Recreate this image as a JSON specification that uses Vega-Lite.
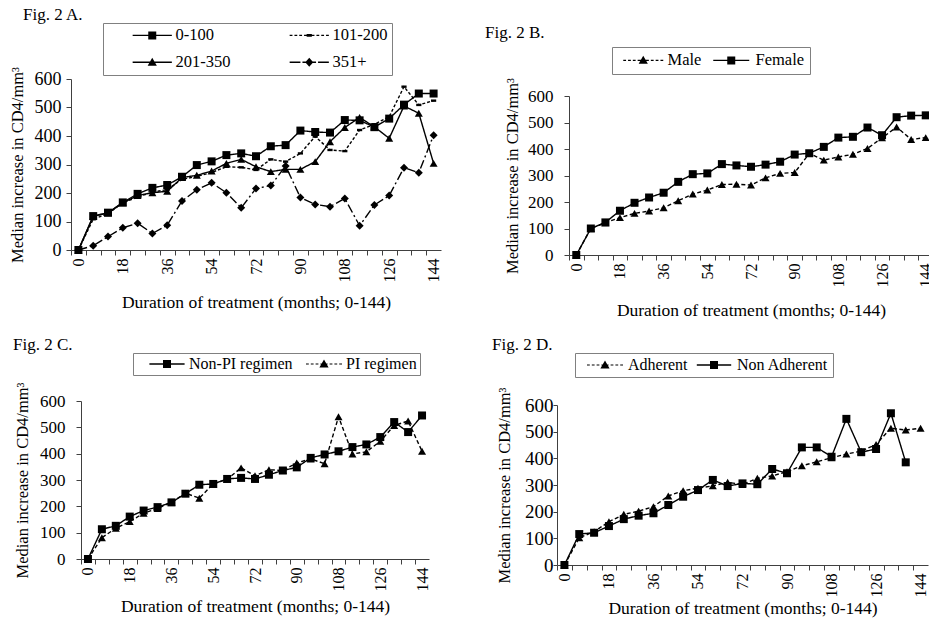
{
  "$schema": "https://vega.github.io/schema/vega-lite/v6.json",
  "autosize": {"type": "none"},
  "padding": {"left": 71, "top": 79, "right": 858, "bottom": 540},
  "background": "white",
  "datasets": {
    "A": [
      {"m":0,"v":0,"g":"0-100"},{"m":6,"v":119,"g":"0-100"},{"m":12,"v":131,"g":"0-100"},{"m":18,"v":167,"g":"0-100"},{"m":24,"v":197,"g":"0-100"},{"m":30,"v":218,"g":"0-100"},{"m":36,"v":228,"g":"0-100"},{"m":42,"v":257,"g":"0-100"},{"m":48,"v":298,"g":"0-100"},{"m":54,"v":311,"g":"0-100"},{"m":60,"v":333,"g":"0-100"},{"m":66,"v":339,"g":"0-100"},{"m":72,"v":329,"g":"0-100"},{"m":78,"v":364,"g":"0-100"},{"m":84,"v":368,"g":"0-100"},{"m":90,"v":419,"g":"0-100"},{"m":96,"v":414,"g":"0-100"},{"m":102,"v":412,"g":"0-100"},{"m":108,"v":456,"g":"0-100"},{"m":114,"v":455,"g":"0-100"},{"m":120,"v":431,"g":"0-100"},{"m":126,"v":461,"g":"0-100"},{"m":132,"v":510,"g":"0-100"},{"m":138,"v":549,"g":"0-100"},{"m":144,"v":549,"g":"0-100"},
      {"m":0,"v":0,"g":"101-200"},{"m":6,"v":108,"g":"101-200"},{"m":12,"v":128,"g":"101-200"},{"m":18,"v":165,"g":"101-200"},{"m":24,"v":186,"g":"101-200"},{"m":30,"v":203,"g":"101-200"},{"m":36,"v":212,"g":"101-200"},{"m":42,"v":248,"g":"101-200"},{"m":48,"v":258,"g":"101-200"},{"m":54,"v":272,"g":"101-200"},{"m":60,"v":292,"g":"101-200"},{"m":66,"v":290,"g":"101-200"},{"m":72,"v":281,"g":"101-200"},{"m":78,"v":318,"g":"101-200"},{"m":84,"v":310,"g":"101-200"},{"m":90,"v":339,"g":"101-200"},{"m":96,"v":398,"g":"101-200"},{"m":102,"v":351,"g":"101-200"},{"m":108,"v":347,"g":"101-200"},{"m":114,"v":421,"g":"101-200"},{"m":120,"v":441,"g":"101-200"},{"m":126,"v":468,"g":"101-200"},{"m":132,"v":573,"g":"101-200"},{"m":138,"v":509,"g":"101-200"},{"m":144,"v":524,"g":"101-200"},
      {"m":0,"v":0,"g":"201-350"},{"m":6,"v":118,"g":"201-350"},{"m":12,"v":130,"g":"201-350"},{"m":18,"v":165,"g":"201-350"},{"m":24,"v":191,"g":"201-350"},{"m":30,"v":201,"g":"201-350"},{"m":36,"v":206,"g":"201-350"},{"m":42,"v":254,"g":"201-350"},{"m":48,"v":262,"g":"201-350"},{"m":54,"v":277,"g":"201-350"},{"m":60,"v":304,"g":"201-350"},{"m":66,"v":318,"g":"201-350"},{"m":72,"v":292,"g":"201-350"},{"m":78,"v":275,"g":"201-350"},{"m":84,"v":283,"g":"201-350"},{"m":90,"v":283,"g":"201-350"},{"m":96,"v":310,"g":"201-350"},{"m":102,"v":380,"g":"201-350"},{"m":108,"v":430,"g":"201-350"},{"m":114,"v":465,"g":"201-350"},{"m":120,"v":432,"g":"201-350"},{"m":126,"v":392,"g":"201-350"},{"m":132,"v":505,"g":"201-350"},{"m":138,"v":480,"g":"201-350"},{"m":144,"v":304,"g":"201-350"},
      {"m":0,"v":0,"g":"351+"},{"m":6,"v":15,"g":"351+"},{"m":12,"v":47,"g":"351+"},{"m":18,"v":78,"g":"351+"},{"m":24,"v":94,"g":"351+"},{"m":30,"v":58,"g":"351+"},{"m":36,"v":87,"g":"351+"},{"m":42,"v":172,"g":"351+"},{"m":48,"v":211,"g":"351+"},{"m":54,"v":236,"g":"351+"},{"m":60,"v":201,"g":"351+"},{"m":66,"v":148,"g":"351+"},{"m":72,"v":216,"g":"351+"},{"m":78,"v":226,"g":"351+"},{"m":84,"v":295,"g":"351+"},{"m":90,"v":184,"g":"351+"},{"m":96,"v":160,"g":"351+"},{"m":102,"v":152,"g":"351+"},{"m":108,"v":181,"g":"351+"},{"m":114,"v":85,"g":"351+"},{"m":120,"v":158,"g":"351+"},{"m":126,"v":191,"g":"351+"},{"m":132,"v":289,"g":"351+"},{"m":138,"v":271,"g":"351+"},{"m":144,"v":403,"g":"351+"}
    ],
    "B": [
      {"m":0,"v":0,"g":"Male"},{"m":6,"v":100,"g":"Male"},{"m":12,"v":122,"g":"Male"},{"m":18,"v":141,"g":"Male"},{"m":24,"v":157,"g":"Male"},{"m":30,"v":166,"g":"Male"},{"m":36,"v":178,"g":"Male"},{"m":42,"v":205,"g":"Male"},{"m":48,"v":230,"g":"Male"},{"m":54,"v":245,"g":"Male"},{"m":60,"v":266,"g":"Male"},{"m":66,"v":267,"g":"Male"},{"m":72,"v":264,"g":"Male"},{"m":78,"v":291,"g":"Male"},{"m":84,"v":308,"g":"Male"},{"m":90,"v":311,"g":"Male"},{"m":96,"v":383,"g":"Male"},{"m":102,"v":358,"g":"Male"},{"m":108,"v":370,"g":"Male"},{"m":114,"v":380,"g":"Male"},{"m":120,"v":402,"g":"Male"},{"m":126,"v":442,"g":"Male"},{"m":132,"v":483,"g":"Male"},{"m":138,"v":436,"g":"Male"},{"m":144,"v":443,"g":"Male"},
      {"m":0,"v":0,"g":"Female"},{"m":6,"v":100,"g":"Female"},{"m":12,"v":123,"g":"Female"},{"m":18,"v":167,"g":"Female"},{"m":24,"v":197,"g":"Female"},{"m":30,"v":217,"g":"Female"},{"m":36,"v":235,"g":"Female"},{"m":42,"v":276,"g":"Female"},{"m":48,"v":305,"g":"Female"},{"m":54,"v":308,"g":"Female"},{"m":60,"v":343,"g":"Female"},{"m":66,"v":338,"g":"Female"},{"m":72,"v":333,"g":"Female"},{"m":78,"v":341,"g":"Female"},{"m":84,"v":352,"g":"Female"},{"m":90,"v":379,"g":"Female"},{"m":96,"v":384,"g":"Female"},{"m":102,"v":408,"g":"Female"},{"m":108,"v":443,"g":"Female"},{"m":114,"v":446,"g":"Female"},{"m":120,"v":481,"g":"Female"},{"m":126,"v":452,"g":"Female"},{"m":132,"v":520,"g":"Female"},{"m":138,"v":526,"g":"Female"},{"m":144,"v":527,"g":"Female"}
    ],
    "C": [
      {"m":0,"v":0,"g":"Non-PI regimen"},{"m":6,"v":113,"g":"Non-PI regimen"},{"m":12,"v":126,"g":"Non-PI regimen"},{"m":18,"v":161,"g":"Non-PI regimen"},{"m":24,"v":184,"g":"Non-PI regimen"},{"m":30,"v":197,"g":"Non-PI regimen"},{"m":36,"v":215,"g":"Non-PI regimen"},{"m":42,"v":248,"g":"Non-PI regimen"},{"m":48,"v":282,"g":"Non-PI regimen"},{"m":54,"v":285,"g":"Non-PI regimen"},{"m":60,"v":304,"g":"Non-PI regimen"},{"m":66,"v":308,"g":"Non-PI regimen"},{"m":72,"v":304,"g":"Non-PI regimen"},{"m":78,"v":320,"g":"Non-PI regimen"},{"m":84,"v":336,"g":"Non-PI regimen"},{"m":90,"v":348,"g":"Non-PI regimen"},{"m":96,"v":384,"g":"Non-PI regimen"},{"m":102,"v":397,"g":"Non-PI regimen"},{"m":108,"v":409,"g":"Non-PI regimen"},{"m":114,"v":425,"g":"Non-PI regimen"},{"m":120,"v":435,"g":"Non-PI regimen"},{"m":126,"v":463,"g":"Non-PI regimen"},{"m":132,"v":520,"g":"Non-PI regimen"},{"m":138,"v":482,"g":"Non-PI regimen"},{"m":144,"v":545,"g":"Non-PI regimen"},
      {"m":0,"v":0,"g":"PI regimen"},{"m":6,"v":81,"g":"PI regimen"},{"m":12,"v":117,"g":"PI regimen"},{"m":18,"v":142,"g":"PI regimen"},{"m":24,"v":174,"g":"PI regimen"},{"m":30,"v":192,"g":"PI regimen"},{"m":36,"v":215,"g":"PI regimen"},{"m":42,"v":250,"g":"PI regimen"},{"m":48,"v":231,"g":"PI regimen"},{"m":54,"v":285,"g":"PI regimen"},{"m":60,"v":303,"g":"PI regimen"},{"m":66,"v":346,"g":"PI regimen"},{"m":72,"v":316,"g":"PI regimen"},{"m":78,"v":339,"g":"PI regimen"},{"m":84,"v":336,"g":"PI regimen"},{"m":90,"v":365,"g":"PI regimen"},{"m":96,"v":380,"g":"PI regimen"},{"m":102,"v":362,"g":"PI regimen"},{"m":108,"v":540,"g":"PI regimen"},{"m":114,"v":399,"g":"PI regimen"},{"m":120,"v":407,"g":"PI regimen"},{"m":126,"v":447,"g":"PI regimen"},{"m":132,"v":507,"g":"PI regimen"},{"m":138,"v":524,"g":"PI regimen"},{"m":144,"v":409,"g":"PI regimen"}
    ],
    "D": [
      {"m":0,"v":0,"g":"Adherent"},{"m":6,"v":102,"g":"Adherent"},{"m":12,"v":125,"g":"Adherent"},{"m":18,"v":162,"g":"Adherent"},{"m":24,"v":190,"g":"Adherent"},{"m":30,"v":202,"g":"Adherent"},{"m":36,"v":219,"g":"Adherent"},{"m":42,"v":259,"g":"Adherent"},{"m":48,"v":279,"g":"Adherent"},{"m":54,"v":288,"g":"Adherent"},{"m":60,"v":297,"g":"Adherent"},{"m":66,"v":310,"g":"Adherent"},{"m":72,"v":302,"g":"Adherent"},{"m":78,"v":325,"g":"Adherent"},{"m":84,"v":334,"g":"Adherent"},{"m":90,"v":350,"g":"Adherent"},{"m":96,"v":372,"g":"Adherent"},{"m":102,"v":387,"g":"Adherent"},{"m":108,"v":402,"g":"Adherent"},{"m":114,"v":416,"g":"Adherent"},{"m":120,"v":427,"g":"Adherent"},{"m":126,"v":452,"g":"Adherent"},{"m":132,"v":513,"g":"Adherent"},{"m":138,"v":506,"g":"Adherent"},{"m":144,"v":513,"g":"Adherent"},
      {"m":0,"v":0,"g":"Non Adherent"},{"m":6,"v":116,"g":"Non Adherent"},{"m":12,"v":121,"g":"Non Adherent"},{"m":18,"v":146,"g":"Non Adherent"},{"m":24,"v":172,"g":"Non Adherent"},{"m":30,"v":185,"g":"Non Adherent"},{"m":36,"v":194,"g":"Non Adherent"},{"m":42,"v":225,"g":"Non Adherent"},{"m":48,"v":256,"g":"Non Adherent"},{"m":54,"v":281,"g":"Non Adherent"},{"m":60,"v":319,"g":"Non Adherent"},{"m":66,"v":296,"g":"Non Adherent"},{"m":72,"v":306,"g":"Non Adherent"},{"m":78,"v":303,"g":"Non Adherent"},{"m":84,"v":360,"g":"Non Adherent"},{"m":90,"v":344,"g":"Non Adherent"},{"m":96,"v":441,"g":"Non Adherent"},{"m":102,"v":441,"g":"Non Adherent"},{"m":108,"v":406,"g":"Non Adherent"},{"m":114,"v":548,"g":"Non Adherent"},{"m":120,"v":423,"g":"Non Adherent"},{"m":126,"v":435,"g":"Non Adherent"},{"m":132,"v":569,"g":"Non Adherent"},{"m":138,"v":385,"g":"Non Adherent"}
    ]
  },
  "spacing": 322,
  "bounds": "flush",
  "resolve": {"scale": {"x": "independent", "y": "independent", "shape": "independent", "strokeDash": "independent"}, "legend": {"shape": "independent", "strokeDash": "independent"}},
  "vconcat": [
    {
      "spacing": 128,
      "bounds": "flush",
      "resolve": {"scale": {"x": "independent", "y": "independent", "shape": "independent", "strokeDash": "independent"}, "legend": {"shape": "independent", "strokeDash": "independent"}},
      "hconcat": [
        {
          "width": 370, "height": 171,
          "title": {"text": "Fig. 2 A.", "anchor": "start", "frame": "group", "dx": -48, "offset": -1},
          "data": {"name": "A"},
          "resolve": {"scale": {"shape": "independent"}, "legend": {"shape": "independent"}},
          "encoding": {
            "x": {"field": "m", "type": "quantitative", "scale": {"domain": [-3, 147]}, "title": "Duration of treatment (months; 0-144)",
              "axis": {"values": [0,6,12,18,24,30,36,42,48,54,60,66,72,78,84,90,96,102,108,114,120,126,132,138,144], "labelExpr": "datum.value % 18 === 0 ? datum.label : ''", "labelAngle": -90, "tickOffset": -7.4, "labelOffset": 7.4, "tickSize": 5, "labelPadding": 3, "titlePadding": 11}},
            "y": {"field": "v", "type": "quantitative", "scale": {"domain": [0, 600]}, "title": "Median increase in CD4/mm³",
              "axis": {"values": [0,100,200,300,400,500,600], "tickSize": 5, "labelPadding": 5, "titlePadding": 9, "labelFontSize": 18}}
          },
          "layer": [
            {"mark": {"type": "line", "color": "black", "strokeWidth": 1.4},
             "encoding": {"strokeDash": {"field": "g", "type": "nominal", "scale": {"range": [[1,0],[3,2],[1,0],[9,3,2,3]]}, "legend": null}}},
            {"mark": {"type": "point", "filled": true, "color": "black", "size": 64, "opacity": 1},
             "encoding": {"shape": {"field": "g", "type": "nominal",
               "scale": {"range": ["square", "M-0.65,-0.3H0.65V0.3H-0.65Z", "triangle-up", "diamond"]}, "legend": null}}},
            {"mark": {"type": "point", "filled": true, "color": "black", "size": 64, "opacity": 0},
             "encoding": {"shape": {"field": "g", "type": "nominal",
               "scale": {"domain": ["0-100","101-200","201-350","351+"], "range": [
                 "M-4.9,-0.17H4.9V0.17H-4.9ZM-1,-1H1V1H-1Z",
                 "M-4.9,-0.15H-4.2V0.15H-4.9ZM-3.7,-0.15H-3V0.15H-3.7ZM-2.5,-0.15H-1.8V0.15H-2.5ZM-1.3,-0.15H1.3V0.15H-1.3ZM1.8,-0.15H2.5V0.15H1.8ZM3,-0.15H3.7V0.15H3ZM4.2,-0.15H4.9V0.15H4.2ZM-0.65,-0.35H0.65V0.35H-0.65Z",
                 "M-4.9,-0.17H4.9V0.17H-4.9ZM0,-1.15L1.15,0.85H-1.15Z",
                 "M-4.9,-0.17H-2.2V0.17H-4.9ZM-1.7,-0.17H1.7V0.17H-1.7ZM2.2,-0.17H4.9V0.17H2.2ZM0,-1.1L1,0L0,1.1L-1,0Z"]},
               "legend": {"title": null, "orient": "none", "direction": "horizontal", "legendX": 32, "legendY": -56, "columns": 2, "padding": 4, "rowPadding": 10, "columnPadding": 33, "symbolOffset": 37, "labelOffset": 15, "labelFontSize": 16.5, "symbolOpacity": 1}}}}
          ]
        },
        {
          "width": 364, "height": 176,
          "title": {"text": "Fig. 2 B.", "anchor": "start", "frame": "group", "dx": -84, "offset": 5},
          "data": {"name": "B"},
          "resolve": {"scale": {"shape": "independent"}, "legend": {"shape": "independent"}},
          "encoding": {
            "x": {"field": "m", "type": "quantitative", "scale": {"domain": [-3, 147]}, "title": "Duration of treatment (months; 0-144)",
              "axis": {"values": [0,6,12,18,24,30,36,42,48,54,60,66,72,78,84,90,96,102,108,114,120,126,132,138,144], "labelExpr": "datum.value % 18 === 0 ? datum.label : ''", "labelAngle": -90, "tickOffset": -7.3, "labelOffset": 7.3, "tickSize": 5, "labelPadding": 3, "titlePadding": 14}},
            "y": {"field": "v", "type": "quantitative", "scale": {"domain": [0, 600], "range": [176, 17]}, "title": "Median increase in CD4/mm³",
              "axis": {"values": [0,100,200,300,400,500,600], "tickSize": 5, "labelPadding": 11, "titlePadding": 7}}
          },
          "layer": [
            {"mark": {"type": "line", "color": "black", "strokeWidth": 1.4},
             "encoding": {"strokeDash": {"field": "g", "type": "nominal", "scale": {"range": [[1,0],[4,2.5]]}, "legend": null}}},
            {"mark": {"type": "point", "filled": true, "color": "black", "size": 64, "opacity": 1},
             "encoding": {"shape": {"field": "g", "type": "nominal",
               "scale": {"range": ["square", "triangle-up"]}, "legend": null}}},
            {"mark": {"type": "point", "filled": true, "color": "black", "size": 64, "opacity": 0},
             "encoding": {"shape": {"field": "g", "type": "nominal",
               "scale": {"domain": ["Male","Female"], "range": [
                 "M-5,-0.15H-4.3V0.15H-5ZM-3.8,-0.15H-3.1V0.15H-3.8ZM-2.6,-0.15H-1.9V0.15H-2.6ZM-1.4,-0.15H1.4V0.15H-1.4ZM1.9,-0.15H2.6V0.15H1.9ZM3.1,-0.15H3.8V0.15H3.1ZM4.3,-0.15H5V0.15H4.3ZM0,-1.15L1.15,0.85H-1.15Z",
                 "M-4.5,-0.17H4.5V0.17H-4.5ZM-1,-1H1V1H-1Z"]},
               "legend": {"title": null, "orient": "none", "direction": "horizontal", "legendX": 43, "legendY": -32, "columns": 2, "padding": 5, "rowPadding": 0, "columnPadding": 3, "symbolOffset": 18, "labelOffset": 16, "labelFontSize": 16.5, "symbolOpacity": 1}}}}
          ]
        }
      ]
    },
    {
      "spacing": 128,
      "bounds": "flush",
      "resolve": {"scale": {"x": "independent", "y": "independent", "shape": "independent", "strokeDash": "independent"}, "legend": {"shape": "independent", "strokeDash": "independent"}},
      "hconcat": [
        {
          "width": 358, "height": 158,
          "title": {"text": "Fig. 2 C.", "anchor": "start", "frame": "group", "dx": -58, "offset": -1},
          "data": {"name": "C"},
          "resolve": {"scale": {"shape": "independent"}, "legend": {"shape": "independent"}},
          "encoding": {
            "x": {"field": "m", "type": "quantitative", "scale": {"domain": [-3, 147], "range": [10, 358]}, "title": "Duration of treatment (months; 0-144)",
              "axis": {"values": [0,6,12,18,24,30,36,42,48,54,60,66,72,78,84,90,96,102,108,114,120,126,132,138,144], "labelExpr": "datum.value % 18 === 0 ? datum.label : ''", "labelAngle": -90, "tickOffset": -7, "labelOffset": 7, "tickSize": 5, "labelPadding": 3, "titlePadding": 6}},
            "y": {"field": "v", "type": "quantitative", "scale": {"domain": [0, 600]}, "title": "Median increase in CD4/mm³",
              "axis": {"values": [0,100,200,300,400,500,600], "offset": -10, "tickSize": 5, "labelPadding": 11, "titlePadding": 9}}
          },
          "layer": [
            {"mark": {"type": "line", "color": "black", "strokeWidth": 1.4},
             "encoding": {"strokeDash": {"field": "g", "type": "nominal", "scale": {"range": [[1,0],[4,2.5]]}, "legend": null}}},
            {"mark": {"type": "point", "filled": true, "color": "black", "size": 64, "opacity": 1},
             "encoding": {"shape": {"field": "g", "type": "nominal",
               "scale": {"range": ["square", "triangle-up"]}, "legend": null}}},
            {"mark": {"type": "point", "filled": true, "color": "black", "size": 64, "opacity": 0},
             "encoding": {"shape": {"field": "g", "type": "nominal",
               "scale": {"domain": ["Non-PI regimen","PI regimen"], "range": [
                 "M-4.4,-0.17H4.4V0.17H-4.4ZM-1,-1H1V1H-1Z",
                 "M-4.5,-0.15H-3.8V0.15H-4.5ZM-3.3,-0.15H-2.6V0.15H-3.3ZM-2.1,-0.15H-1.4V0.15H-2.1ZM-0.9,-0.15H0.9V0.15H-0.9ZM1.4,-0.15H2.1V0.15H1.4ZM2.6,-0.15H3.3V0.15H2.6ZM3.8,-0.15H4.5V0.15H3.8ZM0,-1.15L1.15,0.85H-1.15Z"]},
               "legend": {"title": null, "orient": "none", "direction": "horizontal", "legendX": 62, "legendY": -48, "columns": 2, "padding": 3, "rowPadding": 0, "columnPadding": 0, "symbolOffset": 23, "labelOffset": 14, "labelFontSize": 16, "symbolOpacity": 1}}}}
          ]
        },
        {
          "width": 371, "height": 164,
          "title": {"text": "Fig. 2 D.", "anchor": "start", "frame": "group", "dx": -65, "offset": -1},
          "data": {"name": "D"},
          "resolve": {"scale": {"shape": "independent"}, "legend": {"shape": "independent"}},
          "encoding": {
            "x": {"field": "m", "type": "quantitative", "scale": {"domain": [-3, 147]}, "title": "Duration of treatment (months; 0-144)",
              "axis": {"values": [0,6,12,18,24,30,36,42,48,54,60,66,72,78,84,90,96,102,108,114,120,126,132,138,144], "labelExpr": "datum.value % 18 === 0 ? datum.label : ''", "labelAngle": -90, "tickOffset": -7.4, "labelOffset": 7.4, "tickSize": 5, "labelPadding": 3, "titlePadding": 2}},
            "y": {"field": "v", "type": "quantitative", "scale": {"domain": [0, 600], "range": [164, 4]}, "title": "Median increase in CD4/mm³",
              "axis": {"values": [0,100,200,300,400,500,600], "tickSize": 4, "labelPadding": 0, "titlePadding": 12, "labelFontSize": 19}}
          },
          "layer": [
            {"mark": {"type": "line", "color": "black", "strokeWidth": 1.4},
             "encoding": {"strokeDash": {"field": "g", "type": "nominal", "scale": {"range": [[4,2.5],[1,0]]}, "legend": null}}},
            {"mark": {"type": "point", "filled": true, "color": "black", "size": 64, "opacity": 1},
             "encoding": {"shape": {"field": "g", "type": "nominal",
               "scale": {"range": ["triangle-up", "square"]}, "legend": null}}},
            {"mark": {"type": "point", "filled": true, "color": "black", "size": 64, "opacity": 0},
             "encoding": {"shape": {"field": "g", "type": "nominal",
               "scale": {"domain": ["Adherent","Non Adherent"], "range": [
                 "M-4.5,-0.15H-3.8V0.15H-4.5ZM-3.3,-0.15H-2.6V0.15H-3.3ZM-2.1,-0.15H-1.4V0.15H-2.1ZM-0.9,-0.15H0.9V0.15H-0.9ZM1.4,-0.15H2.1V0.15H1.4ZM2.6,-0.15H3.3V0.15H2.6ZM3.8,-0.15H4.5V0.15H3.8ZM0,-1.15L1.15,0.85H-1.15Z",
                 "M-4.3,-0.17H4.3V0.17H-4.3ZM-1,-1H1V1H-1Z"]},
               "legend": {"title": null, "orient": "none", "direction": "horizontal", "legendX": 18, "legendY": -48, "columns": 2, "padding": 4, "rowPadding": 0, "columnPadding": 0, "symbolOffset": 18, "labelOffset": 15, "labelFontSize": 16, "symbolOpacity": 1}}}}
          ]
        }
      ]
    }
  ],
  "config": {
    "font": "Liberation Serif",
    "view": {"stroke": null},
    "axis": {"domainColor": "#404040", "tickColor": "#404040", "labelColor": "black", "titleColor": "black", "labelFont": "Liberation Serif", "titleFont": "Liberation Serif", "titleFontWeight": "normal", "grid": false, "labelOverlap": false, "labelFlush": false, "domainWidth": 1, "tickWidth": 1},
    "axisX": {"titleFontSize": 17.5, "labelFontSize": 16},
    "axisY": {"titleFontSize": 16.5, "labelFontSize": 17},
    "legend": {"labelFont": "Liberation Serif", "labelColor": "black", "strokeColor": "#808080", "fillColor": "white", "symbolSize": 64, "symbolFillColor": "black", "symbolStrokeColor": "black", "symbolStrokeWidth": 1.3, "symbolOpacity": 1, "labelLimit": 0},
    "title": {"font": "Liberation Serif", "fontSize": 17, "fontWeight": "normal", "color": "black"}
  }
}
